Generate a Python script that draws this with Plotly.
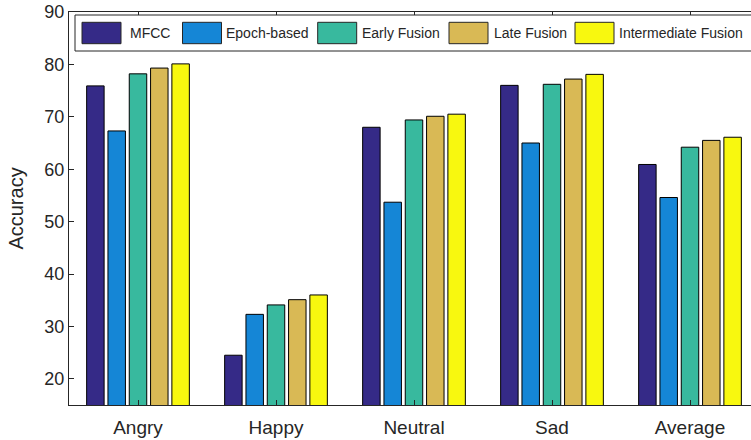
import plotly.graph_objects as go

# Emotion classes on the x axis
categories = ["Angry", "Happy", "Neutral", "Sad", "Average"]

# Accuracy (%) per feature set
series_names = ["MFCC", "Epoch-based", "Early Fusion", "Late Fusion", "Intermediate Fusion"]
mfcc = [75.9, 24.5, 68.0, 76.0, 60.9]
epoch_based = [67.3, 32.3, 53.7, 65.0, 54.6]
early_fusion = [78.2, 34.1, 69.4, 76.2, 64.2]
late_fusion = [79.3, 35.1, 70.1, 77.2, 65.5]
intermediate_fusion = [80.1, 36.0, 70.5, 78.1, 66.1]

series_values = [mfcc, epoch_based, early_fusion, late_fusion, intermediate_fusion]
colors = ["#352a87", "#1586d6", "#38b99e", "#d9b955", "#f8f80f"]

W, H = 751, 440
ML, MR, MT, MB = 69, 0, 12, 35
PW, PH = W - ML - MR, H - MT - MB
CAT_PX = 138.0  # pixel width of one category slot


def px_x(p):
    return (p - ML) / PW


def px_y(p):
    return 1 - (p - MT) / PH


fig = go.Figure()
for name, vals, col in zip(series_names, series_values, colors):
    fig.add_trace(go.Bar(
        x=categories, y=vals, name=name,
        marker=dict(color=col, line=dict(color="#000000", width=1)),
        showlegend=False,
    ))

# Boxed legend drawn along the top of the axes
shapes = [dict(type="rect", xref="paper", yref="paper",
               x0=px_x(75), x1=px_x(770), y0=px_y(51), y1=px_y(15),
               line=dict(color="#262626", width=1), fillcolor="white", layer="above")]
annotations = []
swatch_x = [82, 182.5, 317.7, 449, 575]
text_x = [128, 224, 360, 491.5, 617]
for sx, tx, name, col in zip(swatch_x, text_x, series_names, colors):
    shapes.append(dict(type="rect", xref="paper", yref="paper",
                       x0=px_x(sx), x1=px_x(sx + 39), y0=px_y(43.7), y1=px_y(22.3),
                       line=dict(color="#262626", width=1), fillcolor=col, layer="above"))
    annotations.append(dict(xref="paper", yref="paper", x=px_x(tx), y=px_y(33),
                            text=name, showarrow=False, xanchor="left", yanchor="middle",
                            font=dict(size=14, color="#262626")))

fig.update_layout(
    width=W, height=H,
    margin=dict(l=ML, r=MR, t=MT, b=MB, pad=0),
    paper_bgcolor="white", plot_bgcolor="white",
    font=dict(family="Liberation Sans, Arial, sans-serif", color="#262626"),
    barmode="group", bargap=0.228, bargroupgap=0.18,
    shapes=shapes, annotations=annotations,
    xaxis=dict(
        range=[-0.5, -0.5 + PW / CAT_PX],
        showline=True, linecolor="#262626", linewidth=1, mirror="ticks",
        ticks="inside", ticklen=5, tickcolor="#262626",
        tickfont=dict(size=19), ticklabelstandoff=5,
        showgrid=False, zeroline=False,
    ),
    yaxis=dict(
        range=[15, 90], tickvals=[20, 30, 40, 50, 60, 70, 80, 90],
        showline=True, linecolor="#262626", linewidth=1,
        ticks="inside", ticklen=5, tickcolor="#262626",
        tickfont=dict(size=18), showgrid=False, zeroline=False,
        title=dict(text="Accuracy", font=dict(size=20), standoff=15),
    ),
)

fig.write_html("out.html")
